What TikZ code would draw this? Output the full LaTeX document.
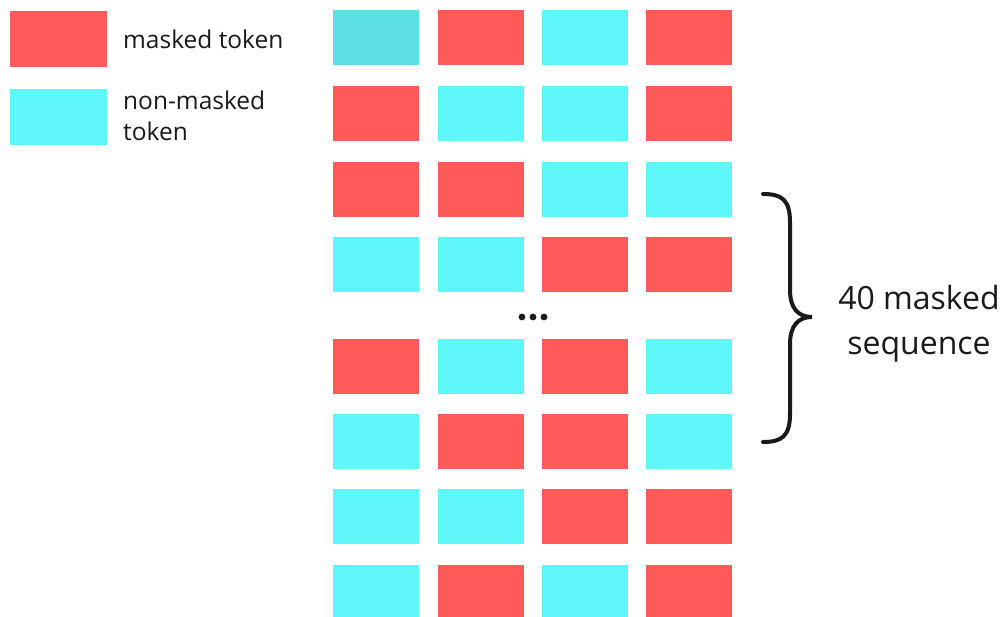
\documentclass[tikz,border=0pt]{standalone}
\usepackage{fontspec}
\setmainfont{Open Sans}
\definecolor{mred}{HTML}{FF5A5A}
\definecolor{mcyan}{HTML}{5EF6F8}
\definecolor{mcyandark}{HTML}{5CE0E4}
\definecolor{ink}{HTML}{1A1A1A}
\begin{document}
\begin{tikzpicture}[x=1pt,y=-1pt,
  cell/.style={rectangle,inner sep=0pt,minimum width=86pt,minimum height=55pt,anchor=north west},
  rc/.style={cell,fill=mred},
  cc/.style={cell,fill=mcyan},
  lbl/.style={font=\fontsize{24.5}{31}\selectfont,text=ink,anchor=west,inner sep=0pt,align=left},
  big/.style={font=\fontsize{32}{45}\selectfont,text=ink,inner sep=0pt,align=center}]
\useasboundingbox (0,0) rectangle (1006,617);
\begin{scope}
\clip (0,0) rectangle (1006,617);
% legend
\node[rc,minimum width=97pt,minimum height=56pt] (legR) at (10,11) {};
\node[cc,minimum width=97pt,minimum height=56pt] (legC) at (10,89) {};
\node[lbl] (legRt) at (123,39) {masked token};
\node[lbl] (legCt) at (123,115.5) {non-masked\\token};
% grid
\node[cell,fill=mcyandark] (c11) at (333,10) {};
\node[rc] (c12) at (438,10) {};
\node[cc] (c13) at (542,10) {};
\node[rc] (c14) at (646,10) {};
\node[rc] (c21) at (333,86) {};
\node[cc] (c22) at (438,86) {};
\node[cc] (c23) at (542,86) {};
\node[rc] (c24) at (646,86) {};
\node[rc] (c31) at (333,162) {};
\node[rc] (c32) at (438,162) {};
\node[cc] (c33) at (542,162) {};
\node[cc] (c34) at (646,162) {};
\node[cc] (c41) at (333,237) {};
\node[cc] (c42) at (438,237) {};
\node[rc] (c43) at (542,237) {};
\node[rc] (c44) at (646,237) {};
\node[rc] (c51) at (333,339) {};
\node[cc] (c52) at (438,339) {};
\node[rc] (c53) at (542,339) {};
\node[cc] (c54) at (646,339) {};
\node[cc] (c61) at (333,414) {};
\node[rc] (c62) at (438,414) {};
\node[rc] (c63) at (542,414) {};
\node[cc] (c64) at (646,414) {};
\node[cc] (c71) at (333,489) {};
\node[cc] (c72) at (438,489) {};
\node[rc] (c73) at (542,489) {};
\node[rc] (c74) at (646,489) {};
\node[cc] (c81) at (333,565) {};
\node[rc] (c82) at (438,565) {};
\node[cc] (c83) at (542,565) {};
\node[rc] (c84) at (646,565) {};
\end{scope}
% dots
\foreach \x [count=\i] in {522,533,544} \fill[ink] (\x,317) circle (3.4pt);
% brace
\draw[line width=4pt,line cap=round,ink]
  (763,194) .. controls (782,194) and (790,200) .. (790,222)
  -- (790,290) .. controls (790,308) and (798,317) .. (812,317)
  .. controls (798,317) and (790,326) .. (790,344)
  -- (790,414) .. controls (790,436) and (782,442) .. (763,442);
\node[big] (lab) at (919,324) {40 masked\\sequence};
\end{tikzpicture}
\end{document}
